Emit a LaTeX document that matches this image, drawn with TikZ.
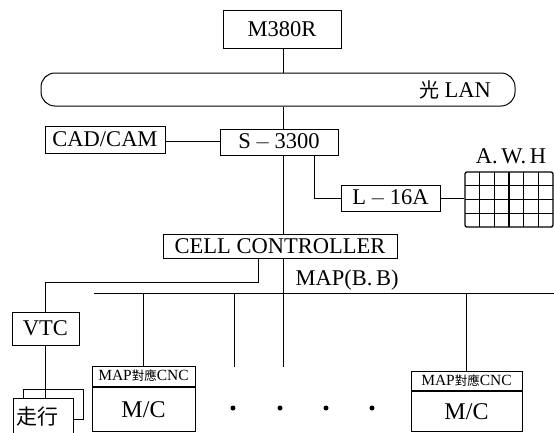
\documentclass[tikz,border=0pt]{standalone}
\usepackage{fontspec}
\setmainfont{Liberation Serif}
\newfontfamily\cjk{Noto Sans CJK TC}
\begin{document}
\begin{tikzpicture}[x=1pt,y=-1pt,line width=1pt,
  box/.style={draw, inner sep=0pt, fill=white, font=\fontsize{22.5}{26}\selectfont},
  hdr/.style={draw, inner sep=0pt, fill=white, font=\fontsize{15.5}{18}\selectfont},
  lbl/.style={inner sep=0pt, font=\fontsize{22.5}{26}\selectfont},
  dot/.style={circle, fill=black, inner sep=0pt, minimum size=5pt}]
\useasboundingbox (0,0) rectangle (554,432);
\clip (0,0) rectangle (554,432);
% top
\node[box, minimum width=118pt, minimum height=38pt] (m380) at (282,29) {M380R};
\node[draw, rounded corners=14pt, minimum width=474pt, minimum height=33pt, inner sep=0pt] (lan) at (278,89.5) {};
\node[lbl] (lant) at (455,90) {{\cjk\fontsize{20}{24}\selectfont 光} LAN};
\coordinate (tx) at (283,0);
\draw (tx |- m380.south) -- (tx |- lan.north);
% S-3300 row
\node[box, minimum width=120pt, minimum height=27pt] (cad) at (105,139.5) {CAD/CAM};
\node[box, minimum width=118pt, minimum height=26pt] (s33) at (279,142) {S\,$-$\,3300};
\draw (tx |- lan.south) -- (tx |- s33.north);
\draw (cad.east |- 0,141) -- (s33.west |- 0,141);
\node[box, minimum width=99pt, minimum height=26pt] (l16) at (390.5,198) {L\,$-$\,16A};
\coordinate (lx) at (314,0);
\draw (lx |- s33.south) |- (l16.west);
\node[draw, line width=1.3pt, rounded corners=2pt, minimum width=88pt, minimum height=55pt, inner sep=0pt] (grid) at (509,199.5) {};
\foreach \i in {1,...,5} \draw[line width=1.3pt] (465+\i*88/6,172) -- (465+\i*88/6,227);
\foreach \j in {1,2,3} \draw[line width=1.3pt] (465,172+\j*55/4) -- (553,172+\j*55/4);
\draw (l16.east) -- (l16.east -| grid.west);
\node[lbl] (awh) at (511,156) {A.\,W.\,H};
% cell controller
\node[box, minimum width=234pt, minimum height=24pt] (cell) at (280,246) {CELL CONTROLLER};
\draw (tx |- s33.south) -- (tx |- cell.north);
\node[lbl, anchor=west] (mapbb) at (295,280) {MAP(B.\,B)};
\coordinate (busL) at (94,293);
\coordinate (busR) at (554,293);
\draw (busL) -- (busR);
% VTC branch
\node[box, minimum width=67pt, minimum height=33pt] (vtc) at (45.5,328.5) {VTC};
\coordinate (cx) at (258,0);
\coordinate (vturn) at (0,282);
\draw (cx |- cell.south) -- (cx |- vturn) -| (vtc.north);
\node[box, minimum width=60pt, minimum height=30pt] (bk) at (53,404) {};
\node[box, anchor=north west, minimum width=60pt, minimum height=36pt, text width=54pt, inner xsep=3pt, align=left] (run) at (13,398) {\cjk\fontsize{21}{24}\selectfont 走行};
\draw (vtc.south) -- (vtc.south |- run.north);
% MAP bus drops
\coordinate (d3) at (283,367);
\draw (tx |- cell.south) -- (d3);
\coordinate (d2t) at (234,293);
\coordinate (d2b) at (234,367);
\draw (d2t) -- (d2b);
\node[hdr, minimum width=103pt, minimum height=20pt] (h1) at (143.5,376) {MAP{\cjk\fontsize{12.5}{14}\selectfont 對應}CNC};
\node[box, minimum width=103pt, minimum height=44.5pt, anchor=north, font=\fontsize{24}{28}\selectfont] (mc1) at (h1.south) {M/C};
\draw (h1.north |- busL) -- (h1.north);
\node[hdr, minimum width=111pt, minimum height=19pt] (h2) at (466.5,380.5) {MAP{\cjk\fontsize{12.5}{14}\selectfont 對應}CNC};
\node[box, minimum width=111pt, minimum height=40.5pt, anchor=north, font=\fontsize{24}{28}\selectfont] (mc2) at (h2.south) {M/C};
\draw (h2.north |- busL) -- (h2.north);
\node[dot] (p1) at (233,408) {};
\node[dot] (p2) at (280,408) {};
\node[dot] (p3) at (326,408) {};
\node[dot] (p4) at (372,408) {};
\end{tikzpicture}
\end{document}
